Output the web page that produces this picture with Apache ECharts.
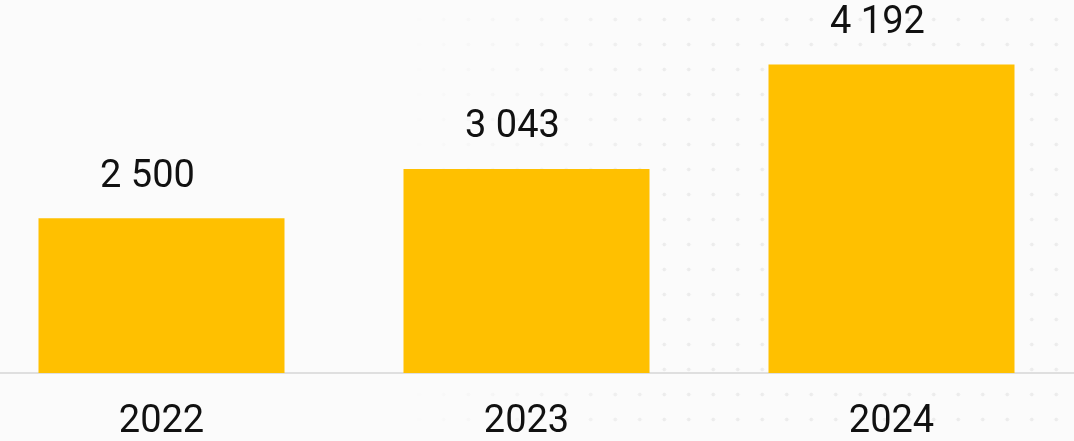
<!DOCTYPE html>
<html>
<head>
<meta charset="utf-8">
<script src="https://cdn.jsdelivr.net/npm/echarts@6/dist/echarts.min.js"></script>
<style>
  html, body { margin: 0; padding: 0; background: #fbfbfb; overflow: hidden; }
  #wrap { position: relative; width: 1074px; height: 441px; overflow: hidden; }
  #dots {
    position: absolute; left: 400px; top: 0; width: 674px; height: 441px;
    background-image: radial-gradient(circle, #ececec 1.6px, transparent 2.2px);
    background-size: 24.5px 25px;
    background-position: 7px 7px;
    -webkit-mask-image: linear-gradient(to right, transparent 0%, #000 40%);
    mask-image: linear-gradient(to right, transparent 0%, #000 40%);
  }
  #chart { position: absolute; left: -21px; top: 0; width: 1116px; height: 441px; }
</style>
</head>
<body>
<div id="wrap">
  <div id="dots"></div>
  <div id="chart"></div>
</div>
<script>
const years = ['2022', '2023', '2024']
const values = [2500, 3043, 4192]

const fmt = (v) => String(v).replace(/\B(?=(\d{3})+(?!\d))/g, ' ')
const font = 'Roboto, "DejaVu Sans Condensed", sans-serif'

const chart = echarts.init(document.getElementById('chart'))

const option = {
  animation: false,
  grid: {
    left: 0,
    right: 21,
    top: 0,
    bottom: 67
  },
  xAxis: {
    type: 'category',
    data: years,
    axisLine: {
      lineStyle: { color: '#d6d6d6', width: 1.5 }
    },
    axisTick: { show: false },
    axisLabel: {
      fontFamily: font,
      fontSize: 38,
      color: '#111',
      margin: 30
    }
  },
  yAxis: {
    type: 'value',
    min: 800,
    max: 4900,
    show: false,
    splitLine: { show: false }
  },
  series: [
    {
      type: 'bar',
      data: values,
      barWidth: 246,
      itemStyle: { color: '#ffc000' },
      label: {
        show: true,
        position: 'top',
        distance: 22,
        offset: [-14, 0],
        fontFamily: font,
        fontSize: 38,
        color: '#111',
        formatter: (p) => fmt(p.value)
      }
    }
  ]
}

chart.setOption(option)

window.addEventListener('resize', () => {
  chart?.resize()
})
</script>
</body>
</html>
